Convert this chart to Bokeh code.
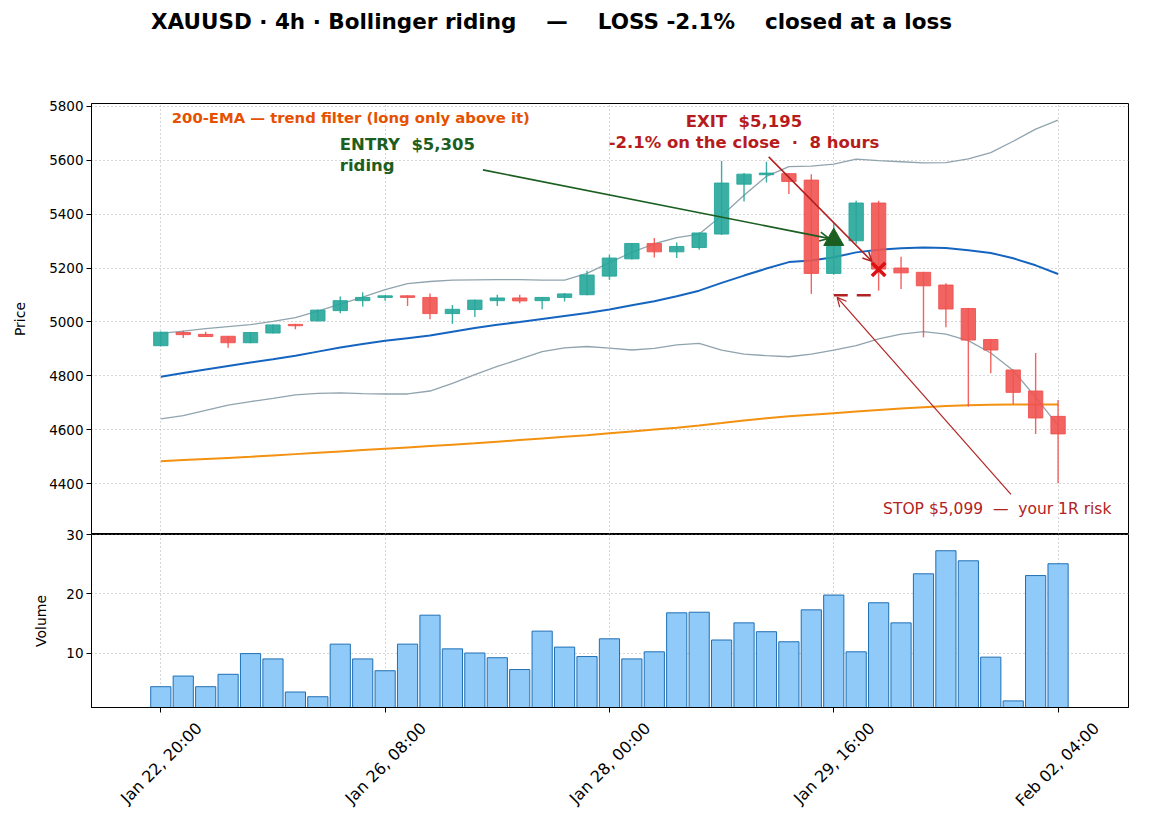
from bokeh.plotting import figure
from bokeh.models import (ColumnDataSource, Arrow, OpenHead, FixedTicker,
                          Range1d, Label, LinearAxis, CustomLabelingPolicy)
from bokeh.layouts import column
from bokeh.embed import file_html
from bokeh.resources import INLINE
from bokeh.core.properties import value
import math

FONT = "DejaVu Sans"
NB = "\u00a0"  # keeps double spaces visible in SVG text

# --- bar axis labels -------------------------------------------------------
tick_pos = [0, 10, 20, 30, 40]
tick_labels = ["Jan 22, 20:00", "Jan 26, 08:00", "Jan 28, 00:00",
               "Jan 29, 16:00", "Feb 02, 04:00"]
# rotated labels are drawn from a second axis, shifted so each one is centred
# under its tick
label_pos = [1.7, 11.7, 21.7, 31.7, 41.7]

# --- 4h OHLC ---------------------------------------------------------------
opens = [4912, 4961, 4954, 4947, 4923, 4959, 4991, 5004, 5042, 5079, 5091,
         5097, 5091, 5031, 5046, 5079, 5089, 5079, 5091, 5101, 5170, 5234,
         5291, 5260, 5276, 5326, 5511, 5546, 5550, 5526, 5180, 5301, 5441,
         5200, 5184, 5137, 5050, 4935, 4822, 4744, 4650]
closes = [4962, 4953, 4946, 4923, 4961, 4989, 4986, 5044, 5079, 5091, 5097,
          5091, 5031, 5047, 5081, 5089, 5078, 5091, 5104, 5174, 5237, 5291,
          5260, 5280, 5330, 5515, 5548, 5552, 5521, 5180, 5280, 5441, 5196,
          5182, 5134, 5048, 4933, 4896, 4739, 4644, 4585]
highs = [4965, 4968, 4964, 4948, 4963, 4991, 4993, 5046, 5094, 5110, 5099,
         5099, 5106, 5063, 5083, 5101, 5101, 5093, 5107, 5190, 5249, 5292,
         5311, 5295, 5332, 5597, 5552, 5594, 5552, 5548, 5369, 5449, 5449,
         5242, 5186, 5144, 5052, 4937, 4824, 4885, 4711]
lows = [4910, 4941, 4944, 4904, 4921, 4957, 4973, 5002, 5032, 5057, 5079,
        5059, 5010, 4993, 5018, 5059, 5069, 5047, 5076, 5099, 5156, 5232,
        5239, 5237, 5268, 5322, 5447, 5517, 5474, 5104, 5175, 5289, 5116,
        5122, 4943, 4980, 4686, 4810, 4696, 4585, 4402]
volumes = [4.3, 6.1, 4.3, 6.4, 9.9, 9.0, 3.4, 2.6, 11.5, 9.0, 7.0, 11.5, 16.4,
           10.7, 10.0, 9.2, 7.2, 13.7, 11.0, 9.4, 12.4, 9.0, 10.2, 16.8, 16.9,
           12.2, 15.1, 13.6, 11.9, 17.3, 19.8, 10.2, 18.5, 15.1, 23.4, 27.3,
           25.6, 9.3, 1.9, 23.1, 25.1]

# --- indicators ------------------------------------------------------------
bb_mid = [4797, 4811, 4824, 4837, 4850, 4862, 4875, 4890, 4905, 4918, 4930,
          4940, 4950, 4964, 4978, 4990, 5000, 5011, 5022, 5033, 5046, 5062,
          5077, 5095, 5116, 5145, 5172, 5198, 5222, 5228, 5240, 5258, 5268,
          5273, 5276, 5274, 5266, 5256, 5236, 5210, 5178]
bb_upper = [4958, 4966, 4975, 4983, 4990, 5002, 5016, 5040, 5066, 5092, 5120,
            5142, 5150, 5155, 5156, 5157, 5157, 5155, 5155, 5180, 5220, 5258,
            5290, 5313, 5326, 5394, 5470, 5540, 5576, 5578, 5585, 5604, 5598,
            5594, 5590, 5591, 5605, 5628, 5670, 5715, 5748]
bb_lower = [4641, 4653, 4672, 4692, 4705, 4717, 4730, 4735, 4737, 4734, 4733,
            4733, 4744, 4772, 4805, 4835, 4862, 4890, 4904, 4909, 4903, 4896,
            4902, 4915, 4921, 4896, 4881, 4875, 4871, 4881, 4896, 4912, 4937,
            4955, 4964, 4955, 4931, 4885, 4820, 4721, 4616]
ema200 = [4484, 4488, 4492, 4496, 4500, 4505, 4510, 4515, 4520, 4525, 4530,
          4535, 4540, 4545, 4550, 4556, 4562, 4568, 4574, 4580, 4587, 4594,
          4601, 4608, 4616, 4625, 4635, 4643, 4650, 4656, 4662, 4668, 4674,
          4679, 4684, 4688, 4691, 4693, 4694, 4694, 4694]

# --- trade ---------------------------------------------------------------
entry_bar, entry_price = 30, 5305
exit_bar, exit_price = 32, 5195
stop_price = 5099

UP, DOWN = "#26a69a", "#ef5350"
idx = list(range(len(opens)))
colors = [UP if c >= o else DOWN for o, c in zip(opens, closes)]

src = ColumnDataSource(dict(
    x=idx, o=opens, c=closes, h=highs, l=lows,
    top=[max(o, c) for o, c in zip(opens, closes)],
    bot=[min(o, c) for o, c in zip(opens, closes)],
    color=colors, vol=volumes,
    mid=bb_mid, up=bb_upper, lo=bb_lower, ema=ema200))

x_range = Range1d(-3.09, 43.14)
LEFT, FRAME_W, RIGHT = 91, 1037, 29


def style_axis(ax):
    ax.axis_line_color = "black"
    ax.major_tick_line_color = "black"
    ax.major_tick_out = 5
    ax.major_tick_in = 0
    ax.minor_tick_line_color = None
    ax.major_label_text_font = FONT
    ax.major_label_text_font_size = "13.5px"
    ax.major_label_text_color = "black"
    ax.axis_label_text_font = FONT
    ax.axis_label_text_font_size = "14px"
    ax.axis_label_text_font_style = "normal"
    ax.axis_label_text_color = "black"
    ax.major_label_standoff = 3


def style_fig(fig):
    for ax in fig.axis:
        style_axis(ax)
    fig.grid.grid_line_color = "#b0b0b0"
    fig.grid.grid_line_dash = "1 3"
    fig.grid.grid_line_width = 1.1
    fig.outline_line_color = "black"
    fig.outline_line_width = 1
    fig.outline_line_alpha = 1


# ===================== title strip =========================================
# x in this strip is measured in page pixels
t = figure(frame_width=FRAME_W, frame_height=93,
           x_range=Range1d(LEFT, LEFT + FRAME_W), y_range=Range1d(0, 93),
           x_axis_type=None, y_axis_type=None,
           output_backend="svg", toolbar_location=None,
           min_border_left=LEFT, min_border_right=RIGHT, min_border_top=0,
           min_border_bottom=0)
t.grid.visible = False
t.outline_line_color = None
title_text = (f"XAUUSD \u00b7 4h \u00b7 Bollinger riding{NB * 4}\u2014{NB * 4}"
              f"LOSS -2.1%{NB * 4}closed at a loss")
t.text(x=[551], y=[72], text=[title_text], text_font=value(FONT),
       text_font_size="21.5px", text_font_style="bold", text_color="black",
       text_align="center", text_baseline="middle")

# ===================== price panel =========================================
p = figure(frame_width=FRAME_W, frame_height=431, x_range=x_range,
           y_range=Range1d(4212, 5810), output_backend="svg",
           toolbar_location=None, min_border_left=LEFT,
           min_border_right=RIGHT, min_border_top=10, min_border_bottom=0)
p.xaxis.visible = False
p.xgrid.ticker = FixedTicker(ticks=tick_pos)
p.yaxis.ticker = FixedTicker(ticks=list(range(4400, 5801, 200)))
p.yaxis.axis_label = "Price"
style_fig(p)
p.yaxis.axis_label_standoff = 18

# Bollinger bands and trend filter
p.line("x", "up", source=src, line_color="#90a4ae", line_width=1.3)
p.line("x", "lo", source=src, line_color="#90a4ae", line_width=1.3)
p.line("x", "mid", source=src, line_color="#1565c0", line_width=2)
p.line("x", "ema", source=src, line_color="#f39110", line_width=2)

# candles
p.segment("x", "h", "x", "l", source=src, line_color="color", line_width=1.4,
          line_alpha=0.9)
p.vbar(x="x", top="top", bottom="bot", width=0.64, source=src,
       fill_color="color", line_color="color", fill_alpha=0.9, line_alpha=0.9)

# stop level between entry and exit
p.line([entry_bar, exit_bar], [stop_price, stop_price], line_color="#b22222",
       line_width=2.6, line_dash="14 9")

# entry / exit markers
p.scatter([entry_bar], [entry_price], marker="triangle", size=20,
          fill_color="#1b5e20", line_color="#1b5e20")
p.scatter([exit_bar], [exit_price], marker="x", size=19,
          line_color="#dd1111", line_width=3.5)

# annotations
p.add_layout(Arrow(end=OpenHead(size=9, line_color="#1b5e20", line_width=1.6),
                   x_start=14.36, y_start=5564,
                   x_end=entry_bar - 0.22, y_end=entry_price + 5,
                   line_color="#1b5e20", line_width=1.6))
p.add_layout(Arrow(end=OpenHead(size=9, line_color="#b22222", line_width=1.6),
                   x_start=27.1, y_start=5612,
                   x_end=exit_bar - 0.3, y_end=exit_price + 30,
                   line_color="#b22222", line_width=1.6))
p.add_layout(Arrow(end=OpenHead(size=9, line_color="#b22222", line_width=1.2),
                   x_start=37.9, y_start=4361,
                   x_end=entry_bar + 0.15, y_end=stop_price - 8,
                   line_color="#b22222", line_width=1.2))

p.text(x=[0.49], y=[5757],
       text=["200-EMA \u2014 trend filter (long only above it)"],
       text_font=value(FONT), text_font_size="14.8px", text_font_style="bold",
       text_color="#e65100", text_baseline="middle", text_align="left")
p.text(x=[7.98], y=[5692], text=[f"ENTRY{NB * 2}${entry_price:,}\nriding"],
       text_font=value(FONT), text_font_size="16.5px", text_font_style="bold",
       text_color="#1b5e20", text_baseline="top", text_align="left",
       text_line_height=1.1)
p.text(x=[26.0], y=[5778],
       text=[f"EXIT{NB * 2}${exit_price:,}\n"
             f"-2.1% on the close{NB * 2}\u00b7{NB * 2}8 hours"],
       text_font=value(FONT), text_font_size="16.5px", text_font_style="bold",
       text_color="#b71c1c", text_baseline="top", text_align="center",
       text_line_height=1.12)
p.add_layout(Label(x=32.2, y=4305,
                   text=f"STOP ${stop_price:,}{NB * 2}\u2014{NB * 2}your 1R risk",
                   text_font=FONT, text_font_size="15.5px",
                   text_color="#b22222", text_baseline="middle",
                   text_align="left"))

# ===================== volume panel ========================================
v = figure(frame_width=FRAME_W, frame_height=173, x_range=x_range,
           y_range=Range1d(0.78, 30.05), output_backend="svg",
           toolbar_location=None, min_border_left=LEFT,
           min_border_right=RIGHT, min_border_top=9, min_border_bottom=0,
           height=824 - 93 - 441 + 9)
# let the top tick label spill over the panel above without a gap
v.margin = (-9, 0, 0, 0)
v.border_fill_alpha = 0
v.vbar(x="x", top="vol", bottom=0, width=0.9, source=src,
       fill_color="#90caf9", line_color="#1f6fb4", line_width=1)
v.xaxis.ticker = FixedTicker(ticks=tick_pos)
v.yaxis.ticker = FixedTicker(ticks=[10, 20, 30])
v.yaxis.axis_label = "Volume"
style_fig(v)
# the tick marks' own labels are drawn by the date axis below
v.xaxis.major_label_policy = CustomLabelingPolicy(
    code="for (const i of [...indices]) indices.unset(i)")
v.xaxis.major_label_standoff = 0
v.yaxis.axis_label_standoff = 14

date_axis = LinearAxis(ticker=FixedTicker(ticks=label_pos),
                       major_label_overrides=dict(zip(label_pos, tick_labels)))
style_axis(date_axis)
date_axis.axis_line_color = None
date_axis.major_tick_line_color = None
date_axis.major_tick_out = 0
date_axis.major_label_standoff = 0
date_axis.major_label_text_font_size = "16px"
date_axis.major_label_orientation = math.pi / 4
v.add_layout(date_axis, "below")

layout = column(t, p, v, spacing=0)
open("out.html", "w").write(file_html(layout, INLINE))
